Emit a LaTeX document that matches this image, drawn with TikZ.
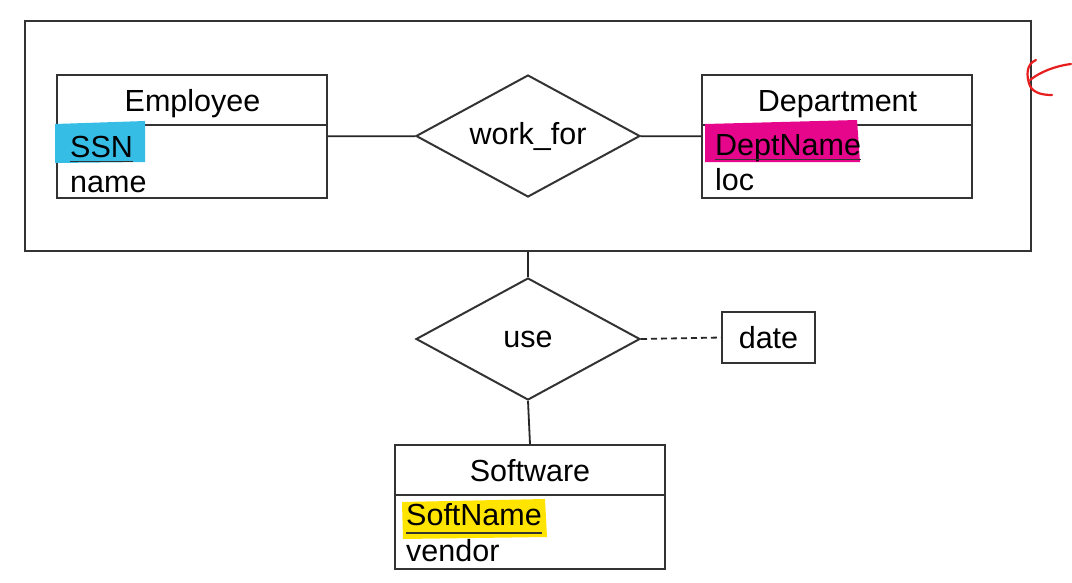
\documentclass[tikz,border=0pt]{standalone}
\usepackage{fontspec}
\setmainfont{Liberation Sans}
\usetikzlibrary{shapes.geometric,calc}
\definecolor{hlcyan}{RGB}{53,189,230}
\definecolor{hlmagenta}{RGB}{230,6,140}
\definecolor{hlyellow}{RGB}{255,228,0}
\definecolor{penred}{RGB}{232,30,30}
\newcommand{\erfont}{\fontsize{30.5}{36}\selectfont}
\begin{document}
\begin{tikzpicture}[x=1pt,y=-1pt,
  box/.style={draw=black!80, line width=2pt, rectangle, inner sep=0pt},
  divider/.style={draw=black!80, line width=2pt},
  rel/.style={draw=black!80, line width=2pt, diamond, aspect=1.84, minimum width=224pt, minimum height=122pt, inner sep=0pt, font=\erfont},
  txt/.style={inner sep=0pt, font=\erfont},
  conn/.style={draw=black!85, line width=1.8pt},
  ul/.style={draw=black!80, line width=1.6pt},
  pen/.style={draw=penred, line width=2.2pt, line cap=round, line join=round}
]
\useasboundingbox (0,0) rectangle (1072,582);
\fill[white] (0,0) rectangle (1072,582);

% aggregation box
\node[box, minimum width=1006pt, minimum height=230pt] (agg) at (528,136) {};

% entities
\node[box, minimum width=270pt, minimum height=123pt] (emp) at (192,136.5) {};
\draw[divider] ($(emp.north west)+(0,51)$) -- ($(emp.north east)+(0,51)$);
\node[box, minimum width=270pt, minimum height=123pt] (dept) at (837,136.5) {};
\draw[divider] ($(dept.north west)+(0,51)$) -- ($(dept.north east)+(0,51)$);
\node[box, minimum width=270pt, minimum height=124pt] (sw) at (530,507) {};
\draw[divider] ($(sw.north west)+(0,51)$) -- ($(sw.north east)+(0,51)$);

% relationships
\node[rel] (wf) at (528,136) {work\_for};
\node[rel] (use) at (528,339) {use};
\node[box, minimum width=93pt, minimum height=51pt, font=\erfont] (date) at (768.5,337.5) {date};

% highlights
\fill[hlcyan] (55,124) -- (145,121) -- (145,162) -- (55,163) -- cycle;
\fill[hlmagenta] (705,124) -- (857,120) -- (860,162) -- (705,162) -- cycle;
\fill[hlyellow] (402,502) -- (545,499) -- (547,537) -- (403,539) -- cycle;

% texts
\node[txt, anchor=base] (empT) at (192.5,111.5) {Employee};
\node[txt, anchor=base west] (ssn) at (70,157) {SSN};
\node[txt, anchor=base west] (ename) at (70,192) {name};
\node[txt, anchor=base] (deptT) at (837.5,111.5) {Department};
\node[txt, anchor=base west] (dname) at (715,155) {DeptName};
\node[txt, anchor=base west] (loc) at (715,190) {loc};
\node[txt, anchor=base] (swT) at (530,481.5) {Software};
\node[txt, anchor=base west] (sname) at (406,525) {SoftName};
\node[txt, anchor=base west] (vendor) at (406,561) {vendor};

% underlines of keys
\draw[ul] ([yshift=-4.5pt]ssn.base west) -- ([yshift=-4.5pt]ssn.base east);
\draw[ul] ([yshift=-4.5pt]dname.base west) -- ([yshift=-4.5pt]dname.base east);
\draw[ul] ([yshift=-8pt]sname.base west) -- ([yshift=-8pt]sname.base east);

% connectors
\draw[conn] (emp) -- (wf);
\draw[conn] (wf) -- (dept);
\draw[conn] (agg.south) -- (use.north);
\draw[conn] (use.south) -- (sw.north);
\draw[conn, dash pattern=on 6pt off 4pt] (use.east) -- (date.west);

% handwritten red mark
\draw[pen] (1071,64) .. controls (1055,66) and (1040,72) .. (1030,80);
\draw[pen] (1036,60) .. controls (1026,64) and (1026,76) .. (1030,86) .. controls (1034,94) and (1045,95) .. (1052,95);
\end{tikzpicture}
\end{document}
